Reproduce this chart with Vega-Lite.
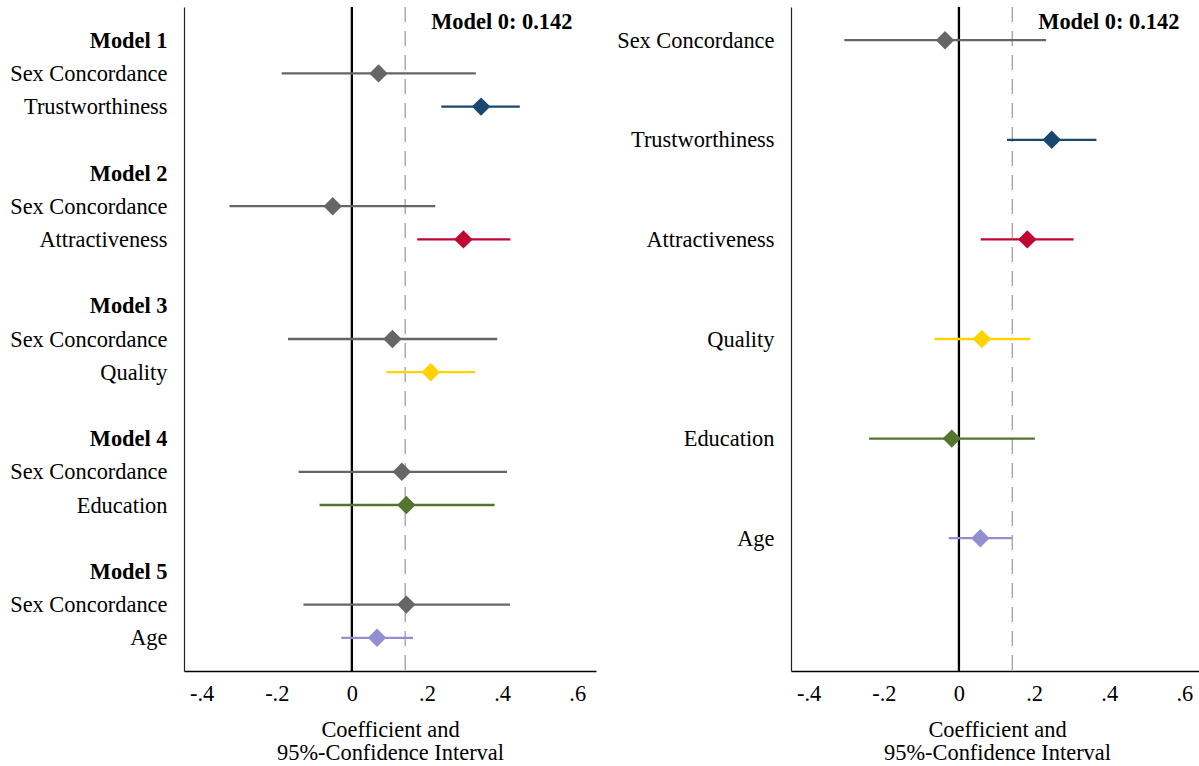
{
  "$schema": "https://vega.github.io/schema/vega-lite/v6.json",
  "padding": {"left": 9, "top": 5, "right": 0, "bottom": 0},
  "background": "#ffffff",
  "spacing": 20,
  "datasets": {
    "left": [
      {"item": "01|Model 1"},
      {"item": "02|Sex Concordance", "variable": "Sex Concordance", "coef": 0.071, "lo": -0.187, "hi": 0.330},
      {"item": "03|Trustworthiness", "variable": "Trustworthiness", "coef": 0.344, "lo": 0.238, "hi": 0.447},
      {"item": "04|"},
      {"item": "05|Model 2"},
      {"item": "06|Sex Concordance", "variable": "Sex Concordance", "coef": -0.051, "lo": -0.326, "hi": 0.222},
      {"item": "07|Attractiveness", "variable": "Attractiveness", "coef": 0.297, "lo": 0.174, "hi": 0.422},
      {"item": "08|"},
      {"item": "09|Model 3"},
      {"item": "10|Sex Concordance", "variable": "Sex Concordance", "coef": 0.108, "lo": -0.170, "hi": 0.387},
      {"item": "11|Quality", "variable": "Quality", "coef": 0.210, "lo": 0.092, "hi": 0.328},
      {"item": "12|"},
      {"item": "13|Model 4"},
      {"item": "14|Sex Concordance", "variable": "Sex Concordance", "coef": 0.133, "lo": -0.142, "hi": 0.413},
      {"item": "15|Education", "variable": "Education", "coef": 0.145, "lo": -0.086, "hi": 0.380},
      {"item": "16|"},
      {"item": "17|Model 5"},
      {"item": "18|Sex Concordance", "variable": "Sex Concordance", "coef": 0.145, "lo": -0.129, "hi": 0.421},
      {"item": "19|Age", "variable": "Age", "coef": 0.067, "lo": -0.028, "hi": 0.163}
    ],
    "right": [
      {"item": "01|Sex Concordance", "variable": "Sex Concordance", "coef": -0.037, "lo": -0.305, "hi": 0.232},
      {"item": "02|"},
      {"item": "03|"},
      {"item": "04|Trustworthiness", "variable": "Trustworthiness", "coef": 0.247, "lo": 0.128, "hi": 0.366},
      {"item": "05|"},
      {"item": "06|"},
      {"item": "07|Attractiveness", "variable": "Attractiveness", "coef": 0.182, "lo": 0.058, "hi": 0.305},
      {"item": "08|"},
      {"item": "09|"},
      {"item": "10|Quality", "variable": "Quality", "coef": 0.061, "lo": -0.065, "hi": 0.190},
      {"item": "11|"},
      {"item": "12|"},
      {"item": "13|Education", "variable": "Education", "coef": -0.019, "lo": -0.239, "hi": 0.202},
      {"item": "14|"},
      {"item": "15|"},
      {"item": "16|Age", "variable": "Age", "coef": 0.057, "lo": -0.027, "hi": 0.141},
      {"item": "17|"},
      {"item": "18|"},
      {"item": "19|"}
    ],
    "ref": [{"ref": 0.142, "reflabel": "Model 0: 0.142"}]
  },
  "hconcat": [
    {
      "width": 412,
      "height": 664,
      "layer": [
        {
          "data": {"name": "left"},
          "mark": {"type": "point", "opacity": 0},
          "encoding": {
            "y": {"field": "item", "type": "nominal", "sort": "ascending", "scale": {"type": "point", "padding": 1},
              "axis": {"title": null, "labelExpr": "split(datum.value, '|')[1]",
                "labelFontWeight": {"condition": {"test": "indexof(datum.value, 'Model') >= 0", "value": "bold"}, "value": "normal"},
                "labelPadding": 17, "domainColor": "#222222", "domainWidth": 1.2, "ticks": false, "grid": false,
                "labelFontSize": 22.4, "labelColor": "#000000", "labelFont": "Liberation Serif"}}
          }
        },
        {
          "data": {"name": "ref"},
          "mark": {"type": "rule", "color": "#000000", "strokeWidth": 2.3},
          "encoding": {
            "x": {"datum": 0, "type": "quantitative", "scale": {"domain": [-0.447, 0.65], "nice": false, "zero": false},
              "axis": {"values": [-0.4, -0.2, 0, 0.2, 0.4, 0.6],
                "labelExpr": "datum.value == 0 ? '0' : (datum.value < 0 ? '-.' : '.') + round(abs(datum.value) * 10)",
                "title": ["Coefficient and", "95%-Confidence Interval"],
                "labelPadding": 11, "titlePadding": 14, "ticks": false, "grid": false, "labelFlush": false,
                "domainColor": "#000000", "domainWidth": 1.5, "labelFontSize": 22.4, "labelColor": "#000000",
                "titleFontSize": 22.4, "titleFontWeight": "normal", "titleColor": "#000000", "titleLineHeight": 23,
                "labelFont": "Liberation Serif", "titleFont": "Liberation Serif"}}
          }
        },
        {
          "data": {"name": "ref"},
          "mark": {"type": "rule", "color": "#a0a0a0", "strokeWidth": 1.3, "strokeDash": [15, 9]},
          "encoding": {"x": {"field": "ref", "type": "quantitative"}}
        },
        {
          "data": {"name": "ref"},
          "mark": {"type": "text", "align": "left", "baseline": "middle", "dx": 26, "dy": -18, "fontSize": 22.4, "fontWeight": "bold", "font": "Liberation Serif", "color": "#000000"},
          "encoding": {
            "x": {"field": "ref", "type": "quantitative"},
            "y": {"datum": "01|Model 1", "type": "nominal"},
            "text": {"field": "reflabel"}
          }
        },
        {
          "data": {"name": "left"},
          "mark": {"type": "rule", "strokeWidth": 2.3},
          "encoding": {
            "x": {"field": "lo", "type": "quantitative"},
            "x2": {"field": "hi"},
            "y": {"field": "item", "type": "nominal", "sort": "ascending"},
            "color": {"field": "variable", "type": "nominal", "legend": null,
              "scale": {"domain": ["Sex Concordance", "Trustworthiness", "Attractiveness", "Quality", "Education", "Age"],
                "range": ["#666666", "#1a476f", "#c10534", "#ffd200", "#55752f", "#938dd2"]}}
          }
        },
        {
          "data": {"name": "left"},
          "mark": {"type": "point", "shape": "diamond", "filled": true, "size": 340, "opacity": 1},
          "encoding": {
            "x": {"field": "coef", "type": "quantitative"},
            "y": {"field": "item", "type": "nominal", "sort": "ascending"},
            "color": {"field": "variable", "type": "nominal", "legend": null}
          }
        }
      ]
    },
    {
      "width": 408,
      "height": 664,
      "layer": [
        {
          "data": {"name": "right"},
          "mark": {"type": "point", "opacity": 0},
          "encoding": {
            "y": {"field": "item", "type": "nominal", "sort": "ascending", "scale": {"type": "point", "padding": 1},
              "axis": {"title": null, "labelExpr": "split(datum.value, '|')[1]",
                "labelPadding": 17, "domainColor": "#222222", "domainWidth": 1.2, "ticks": false, "grid": false,
                "labelFontSize": 22.4, "labelColor": "#000000", "labelFont": "Liberation Serif", "labelFontWeight": "normal"}}
          }
        },
        {
          "data": {"name": "ref"},
          "mark": {"type": "rule", "color": "#000000", "strokeWidth": 2.3},
          "encoding": {
            "x": {"datum": 0, "type": "quantitative", "scale": {"domain": [-0.447, 0.639], "nice": false, "zero": false},
              "axis": {"values": [-0.4, -0.2, 0, 0.2, 0.4, 0.6],
                "labelExpr": "datum.value == 0 ? '0' : (datum.value < 0 ? '-.' : '.') + round(abs(datum.value) * 10)",
                "title": ["Coefficient and", "95%-Confidence Interval"], "titleX": 206,
                "labelPadding": 11, "titlePadding": 14, "ticks": false, "grid": false, "labelFlush": false,
                "domainColor": "#000000", "domainWidth": 1.5, "labelFontSize": 22.4, "labelColor": "#000000",
                "titleFontSize": 22.4, "titleFontWeight": "normal", "titleColor": "#000000", "titleLineHeight": 23,
                "labelFont": "Liberation Serif", "titleFont": "Liberation Serif"}}
          }
        },
        {
          "data": {"name": "ref"},
          "mark": {"type": "rule", "color": "#a0a0a0", "strokeWidth": 1.3, "strokeDash": [15, 9]},
          "encoding": {"x": {"field": "ref", "type": "quantitative"}}
        },
        {
          "data": {"name": "ref"},
          "mark": {"type": "text", "align": "left", "baseline": "middle", "dx": 26, "dy": -18, "fontSize": 22.4, "fontWeight": "bold", "font": "Liberation Serif", "color": "#000000"},
          "encoding": {
            "x": {"field": "ref", "type": "quantitative"},
            "y": {"datum": "01|Sex Concordance", "type": "nominal"},
            "text": {"field": "reflabel"}
          }
        },
        {
          "data": {"name": "right"},
          "mark": {"type": "rule", "strokeWidth": 2.3},
          "encoding": {
            "x": {"field": "lo", "type": "quantitative"},
            "x2": {"field": "hi"},
            "y": {"field": "item", "type": "nominal", "sort": "ascending"},
            "color": {"field": "variable", "type": "nominal", "legend": null,
              "scale": {"domain": ["Sex Concordance", "Trustworthiness", "Attractiveness", "Quality", "Education", "Age"],
                "range": ["#666666", "#1a476f", "#c10534", "#ffd200", "#55752f", "#938dd2"]}}
          }
        },
        {
          "data": {"name": "right"},
          "mark": {"type": "point", "shape": "diamond", "filled": true, "size": 340, "opacity": 1},
          "encoding": {
            "x": {"field": "coef", "type": "quantitative"},
            "y": {"field": "item", "type": "nominal", "sort": "ascending"},
            "color": {"field": "variable", "type": "nominal", "legend": null}
          }
        }
      ]
    }
  ],
  "resolve": {"scale": {"color": "independent"}},
  "config": {
    "view": {"stroke": null},
    "font": "Liberation Serif",
    "axis": {"grid": false}
  }
}
